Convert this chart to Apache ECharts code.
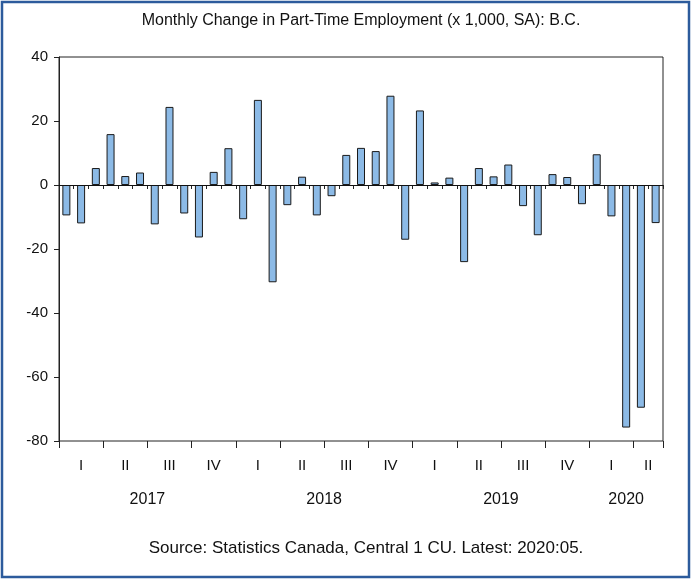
<!DOCTYPE html>
<html>
<head>
<meta charset="utf-8">
<script src="https://cdn.jsdelivr.net/npm/echarts@6/dist/echarts.min.js"></script>
<style>
  html, body { margin: 0; padding: 0; background: #fff; }
  #chart { width: 691px; height: 579px; }
</style>
</head>
<body>
<div id="chart"></div>
<script>
// 月份（类目）
const months = [
  '2017-01', '2017-02', '2017-03', '2017-04', '2017-05', '2017-06',
  '2017-07', '2017-08', '2017-09', '2017-10', '2017-11', '2017-12',
  '2018-01', '2018-02', '2018-03', '2018-04', '2018-05', '2018-06',
  '2018-07', '2018-08', '2018-09', '2018-10', '2018-11', '2018-12',
  '2019-01', '2019-02', '2019-03', '2019-04', '2019-05', '2019-06',
  '2019-07', '2019-08', '2019-09', '2019-10', '2019-11', '2019-12',
  '2020-01', '2020-02', '2020-03', '2020-04', '2020-05'
]
// 兼职就业月度变化 (x 1,000)
const changes = [
  -9.5, -12.0, 5.3, 15.9, 2.8, 3.9, -12.3, 24.4, -8.9, -16.4, 4.1, 11.5,
  -10.7, 26.6, -30.4, -6.3, 2.6, -9.5, -3.5, 9.4, 11.6, 10.6, 27.9, -17.1,
  23.3, 0.8, 2.3, -24.1, 5.3, 2.7, 6.4, -6.6, -15.7, 3.4, 2.5, -6.0,
  9.6, -9.8, -75.8, -69.6, -11.9
]
const quarterNames = ['I', 'II', 'III', 'IV']
const yTicks = { min: -80, max: 40, interval: 20 }

// 按季度/年份分组，求标签中心位置（单位：半个月）
function groupCenters(keyFn, labelFn) {
  const groups = []
  months.forEach((m, i) => {
    const key = keyFn(m)
    const last = groups[groups.length - 1]
    if (last && last.key === key) {
      last.end = i + 1
    } else {
      groups.push({ key, label: labelFn(m), start: i, end: i + 1 })
    }
  })
  const map = {}
  groups.forEach((g) => {
    map[g.start + g.end] = g.label
  })
  return map
}
const quarterOf = (m) => quarterNames[Math.floor((+m.slice(5) - 1) / 3)]
const quarterMap = groupCenters((m) => m.slice(0, 4) + quarterOf(m), quarterOf)
const yearMap = groupCenters((m) => m.slice(0, 4), (m) => m.slice(0, 4))

const chart = echarts.init(document.getElementById('chart'))

const labelFont = {
  fontFamily: 'Liberation Sans, Arial, sans-serif',
  fontSize: 15,
  color: '#111'
}

const option = {
  animation: false,
  title: [
    {
      text: 'Monthly Change in Part-Time Employment (x 1,000, SA): B.C.',
      left: 356,
      top: 8,
      textAlign: 'center',
      textStyle: { ...labelFont, fontSize: 16, fontWeight: 'normal' }
    },
    {
      text: 'Source: Statistics Canada, Central 1 CU. Latest: 2020:05.',
      left: 361,
      top: 535,
      textAlign: 'center',
      textStyle: { ...labelFont, fontSize: 17, fontWeight: 'normal' }
    }
  ],
  // 外边框
  graphic: [
    {
      type: 'rect',
      shape: { x: 2, y: 2, width: 687, height: 575 },
      style: { fill: 'none', stroke: '#2c5b9c', lineWidth: 2.5 },
      silent: true
    }
  ],
  grid: {
    left: 59,
    right: 28,
    top: 57,
    bottom: 138,
    show: true,
    borderColor: '#222',
    borderWidth: 1
  },
  xAxis: [
    // 月度刻度（短）
    {
      type: 'category',
      data: months,
      boundaryGap: true,
      axisLine: { show: true, lineStyle: { color: '#222', width: 1 } },
      axisTick: { show: true, interval: 0, length: 4, lineStyle: { color: '#222' } },
      axisLabel: { show: false },
      splitLine: { show: false }
    },
    // 季度刻度（长）
    {
      type: 'category',
      data: months,
      position: 'bottom',
      boundaryGap: true,
      axisLine: { show: false },
      axisTick: {
        show: true,
        interval: (index) => index % 3 === 0,
        length: 7,
        lineStyle: { color: '#222' }
      },
      axisLabel: { show: false }
    },
    // 季度标签
    {
      type: 'value',
      position: 'bottom',
      min: 0,
      max: months.length,
      interval: 0.5,
      axisLine: { show: false },
      axisTick: { show: false },
      splitLine: { show: false },
      axisLabel: {
        ...labelFont,
        margin: 17,
        formatter: (v) => quarterMap[Math.round(v * 2)] || ''
      }
    },
    // 年份标签
    {
      type: 'value',
      position: 'bottom',
      min: 0,
      max: months.length,
      interval: 0.5,
      axisLine: { show: false },
      axisTick: { show: false },
      splitLine: { show: false },
      axisLabel: {
        ...labelFont,
        fontSize: 16,
        margin: 51,
        formatter: (v) => yearMap[Math.round(v * 2)] || ''
      }
    }
  ],
  yAxis: {
    type: 'value',
    min: yTicks.min,
    max: yTicks.max,
    interval: yTicks.interval,
    axisLine: { show: true, lineStyle: { color: '#222', width: 1 } },
    axisTick: { show: true, length: 5, lineStyle: { color: '#222' } },
    axisLabel: { ...labelFont, margin: 11 },
    splitLine: { show: false }
  },
  series: [
    {
      type: 'bar',
      xAxisIndex: 0,
      data: changes,
      barWidth: 8,
      itemStyle: {
        color: '#8cbae6',
        borderColor: '#1a1a1a',
        borderWidth: 1
      },
      markLine: {
        silent: true,
        symbol: 'none',
        label: { show: false },
        lineStyle: { color: '#111', width: 1, type: 'solid' },
        data: [{ yAxis: 0 }]
      }
    }
  ]
}

chart.setOption(option)
</script>
</body>
</html>
